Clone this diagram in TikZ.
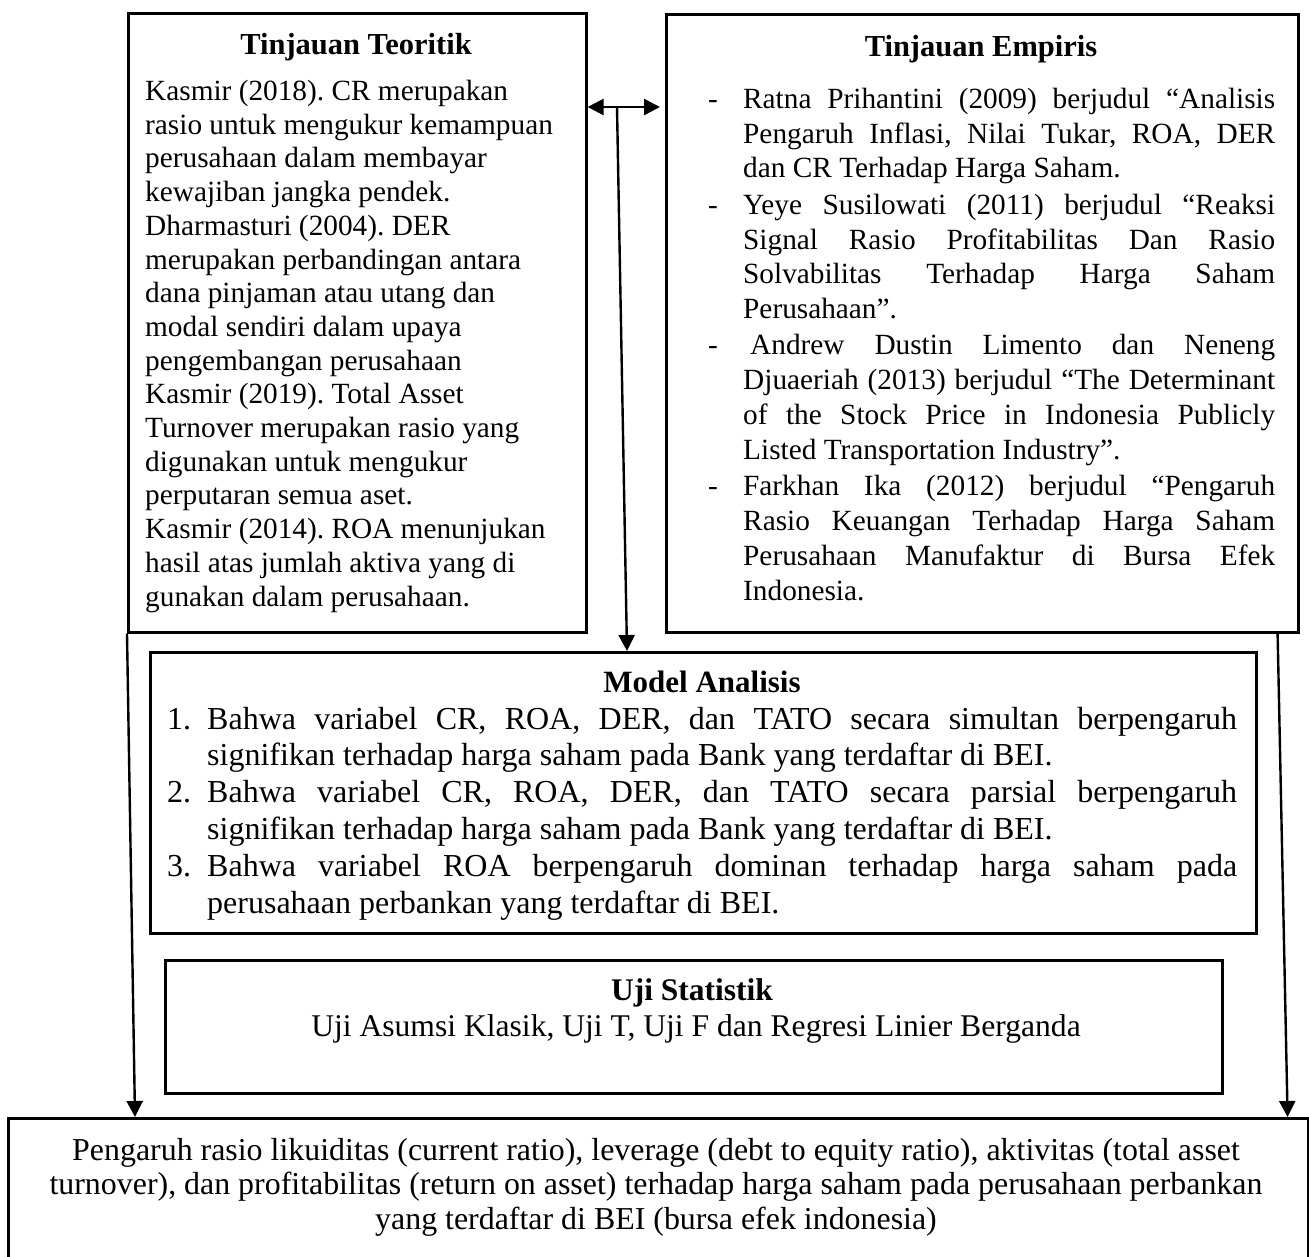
\documentclass[tikz,border=0pt]{standalone}
\usepackage{fontspec}
\setmainfont{Liberation Serif}
\usetikzlibrary{arrows.meta,calc}
\frenchspacing
\newcommand\ejl[1]{\makebox[532pt][s]{#1}}
\newcommand\mjl[1]{\makebox[1030pt][s]{#1}}
\begin{document}
\begin{tikzpicture}[x=1pt,y=-1pt,
  >={Triangle[length=16pt,width=16pt]},
  box/.style={draw, line width=2.6pt, inner sep=0pt},
  txt/.style={inner sep=0pt, align=left, anchor=base west},
  ctxt/.style={inner sep=0pt, align=center, anchor=base},
  ttl/.style={inner sep=0pt, anchor=base, font=\fontsize{30.5}{34}\selectfont\bfseries},
  conn/.style={line width=2.4pt, ->},
  dconn/.style={line width=2.4pt, <->},
]
\useasboundingbox (0,0) rectangle (1309,1256);
\clip (0,0) rectangle (1309,1256);

% boxes
\node[box, minimum width=458pt, minimum height=619pt, anchor=north west] (teo) at (127,12) {};
\node[box, minimum width=632pt, minimum height=618pt, anchor=north west] (emp) at (665,13) {};
\node[box, minimum width=1106pt, minimum height=281pt, anchor=north west] (model) at (149,651) {};
\node[box, minimum width=1057pt, minimum height=133pt, anchor=north west] (uji) at (164,959) {};
\node[box, minimum width=1300pt, minimum height=170pt, anchor=north west] (bot) at (7,1117) {};

% Tinjauan Teoritik (anchor = baseline of last line)
\node[ttl] (teoT) at (356,54) {Tinjauan Teoritik};
\node[txt, font=\fontsize{29.3}{33.7}\selectfont] (teoB) at (145,606) {Kasmir (2018). CR merupakan\\
rasio untuk mengukur kemampuan\\
perusahaan dalam membayar\\
kewajiban jangka pendek.\\
Dharmasturi (2004). DER\\
merupakan perbandingan antara\\
dana pinjaman atau utang dan\\
modal sendiri dalam upaya\\
pengembangan perusahaan\\
Kasmir (2019). Total Asset\\
Turnover merupakan rasio yang\\
digunakan untuk mengukur\\
perputaran semua aset.\\
Kasmir (2014). ROA menunjukan\\
hasil atas jumlah aktiva yang di\\
gunakan dalam perusahaan.};

% Tinjauan Empiris
\node[ttl] (empT) at (981,56) {Tinjauan Empiris};
\node[txt, font=\fontsize{29.3}{34.8}\selectfont] (empB) at (708,600) {\makebox[35pt][l]{-}\ejl{Ratna Prihantini (2009) berjudul “Analisis}\\
\hspace*{35pt}\ejl{Pengaruh Inflasi, Nilai Tukar, ROA, DER}\\
\hspace*{35pt}dan CR Terhadap Harga Saham.\\[1.5pt]
\makebox[35pt][l]{-}\ejl{Yeye Susilowati (2011) berjudul “Reaksi}\\
\hspace*{35pt}\ejl{Signal Rasio Profitabilitas Dan Rasio}\\
\hspace*{35pt}\ejl{Solvabilitas Terhadap Harga Saham}\\
\hspace*{35pt}Perusahaan”.\\[1.5pt]
\makebox[35pt][l]{-}\hspace*{7pt}\makebox[525pt][s]{Andrew Dustin Limento dan Neneng}\\
\hspace*{35pt}\ejl{Djuaeriah (2013) berjudul “The Determinant}\\
\hspace*{35pt}\ejl{of the Stock Price in Indonesia Publicly}\\
\hspace*{35pt}Listed Transportation Industry”.\\[1.5pt]
\makebox[35pt][l]{-}\ejl{Farkhan Ika (2012) berjudul “Pengaruh}\\
\hspace*{35pt}\ejl{Rasio Keuangan Terhadap Harga Saham}\\
\hspace*{35pt}\ejl{Perusahaan Manufaktur di Bursa Efek}\\
\hspace*{35pt}Indonesia.};

% Model Analisis
\node[ttl, font=\fontsize{31}{34}\selectfont\bfseries] (modT) at (702,692) {Model Analisis};
\node[txt, font=\fontsize{32}{36.8}\selectfont] (modB) at (167,913) {\makebox[40pt][l]{1.}\mjl{Bahwa variabel CR, ROA, DER, dan TATO secara simultan berpengaruh}\\
\hspace*{40pt}signifikan terhadap harga saham pada Bank yang terdaftar di BEI.\\
\makebox[40pt][l]{2.}\mjl{Bahwa variabel CR, ROA, DER, dan TATO secara parsial berpengaruh}\\
\hspace*{40pt}signifikan terhadap harga saham pada Bank yang terdaftar di BEI.\\
\makebox[40pt][l]{3.}\mjl{Bahwa variabel ROA berpengaruh dominan terhadap harga saham pada}\\
\hspace*{40pt}perusahaan perbankan yang terdaftar di BEI.};

% Uji Statistik
\node[ttl, font=\fontsize{31.5}{34}\selectfont\bfseries] (ujiT) at (692,1000) {Uji Statistik};
\node[ctxt, font=\fontsize{31.6}{35}\selectfont] (ujiB) at (696,1036) {Uji Asumsi Klasik, Uji T, Uji F dan Regresi Linier Berganda};

% bottom
\node[ctxt, font=\fontsize{31.9}{34.5}\selectfont] (botB) at (656,1229) {Pengaruh rasio likuiditas (current ratio), leverage (debt to equity ratio), aktivitas (total asset\\
turnover), dan profitabilitas (return on asset) terhadap harga saham pada perusahaan perbankan\\
yang terdaftar di BEI (bursa efek indonesia)};

% connectors
\coordinate (dA) at (617,107);
\draw[dconn] (teo.east |- dA) -- ([xshift=-5pt]emp.west |- dA);
\draw[conn] (dA) -- ([xshift=478pt]model.north west);
\draw[conn] (teo.south west) -- ([xshift=128pt]bot.north west);
\draw[conn] ([xshift=-22pt]emp.south east) -- ([xshift=-22pt]bot.north east);
\end{tikzpicture}
\end{document}
